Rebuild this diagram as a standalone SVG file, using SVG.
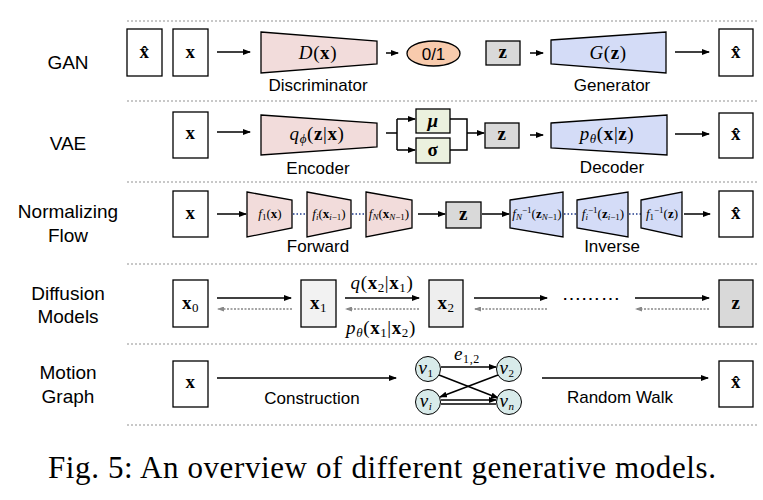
<svg xmlns="http://www.w3.org/2000/svg" width="763" height="500" viewBox="0 0 763 500">
<defs>
<marker id="ah" markerWidth="8" markerHeight="6" refX="7" refY="3" orient="auto" markerUnits="userSpaceOnUse"><path d="M0,0 L8,3 L0,6 Z" fill="#000"/></marker>
<marker id="ahg" markerWidth="7" markerHeight="5" refX="6" refY="2.5" orient="auto" markerUnits="userSpaceOnUse"><path d="M0,0 L7,2.5 L0,5 Z" fill="#888"/></marker>
<style>
.sep{stroke:#c8c8c8;stroke-width:2;stroke-dasharray:2 2;fill:none}
.box{fill:#fff;stroke:#000;stroke-width:1.3}
.zb{fill:#d9d9d9;stroke:#000;stroke-width:1.3}
.pink{fill:#f2dcdb;stroke:#000;stroke-width:1.3}
.blue{fill:#d4dcf7;stroke:#000;stroke-width:1.3}
.grn{fill:#ebf1de;stroke:#000;stroke-width:1.3}
.nd{fill:#d8ebea;stroke:#000;stroke-width:1}
.ar{stroke:#000;stroke-width:1.5;fill:none;marker-end:url(#ah)}
.ln{stroke:#000;stroke-width:1.5;fill:none}
.bk{stroke:#888;stroke-width:1.3;stroke-dasharray:2 1.5;fill:none;marker-end:url(#ahg)}
.dt{stroke:#1f3a8a;stroke-width:1.5;stroke-dasharray:1.5 2;fill:none}
.lab{font-family:"Liberation Sans",Arial,sans-serif;font-size:19px;fill:#000;text-anchor:middle}
.cap{font-family:"Liberation Sans",Arial,sans-serif;font-size:17px;fill:#000;text-anchor:middle}
.m{font-family:"Liberation Serif","Times New Roman",serif;font-size:19px;fill:#000;text-anchor:middle;letter-spacing:0.6px}
.ms{font-family:"Liberation Serif","Times New Roman",serif;font-size:13px;fill:#000;text-anchor:middle}
.b{font-weight:bold}
.i{font-style:italic}
</style>
</defs>

<g id="separators">
<line class="sep" x1="127" y1="21" x2="757" y2="21"/>
<line class="sep" x1="127" y1="101" x2="757" y2="101"/>
<line class="sep" x1="127" y1="182" x2="757" y2="182"/>
<line class="sep" x1="127" y1="264" x2="757" y2="264"/>
<line class="sep" x1="127" y1="344" x2="757" y2="344"/>
<line class="sep" x1="127" y1="425" x2="757" y2="425"/>
</g>

<g id="row-labels">
<text class="lab" x="68" y="69">GAN</text>
<text class="lab" x="68" y="150">VAE</text>
<text class="lab" x="68" y="218">Normalizing</text>
<text class="lab" x="68" y="242">Flow</text>
<text class="lab" x="68" y="300">Diffusion</text>
<text class="lab" x="68" y="323">Models</text>
<text class="lab" x="68" y="379">Motion</text>
<text class="lab" x="68" y="403">Graph</text>
</g>

<g id="connectors">
<line class="ar" x1="217" y1="52" x2="250" y2="52"/>
<line class="ar" x1="386" y1="53" x2="398" y2="53"/>
<line class="ar" x1="530" y1="53" x2="543" y2="53"/>
<line class="ar" x1="675" y1="52" x2="709" y2="52"/>
<line class="ar" x1="217" y1="132" x2="250" y2="132"/>
<polyline class="ln" points="386,133 397,133"/>
<polyline class="ln" points="397,119 397,150"/>
<line class="ar" x1="397" y1="119" x2="415" y2="119"/>
<line class="ar" x1="397" y1="150" x2="415" y2="150"/>
<polyline class="ln" points="450,119 467,119 467,150 450,150"/>
<line class="ar" x1="467" y1="133" x2="484" y2="133"/>
<line class="ar" x1="530" y1="135" x2="543" y2="135"/>
<line class="ar" x1="675" y1="134" x2="709" y2="134"/>
<line class="ar" x1="217" y1="214" x2="246" y2="214"/>
<line class="dt" x1="293" y1="214" x2="306" y2="214"/>
<line class="dt" x1="352" y1="214" x2="365" y2="214"/>
<line class="ar" x1="418" y1="214" x2="445" y2="214"/>
<line class="ar" x1="482" y1="214" x2="509" y2="214"/>
<line class="dt" x1="564" y1="214" x2="577" y2="214"/>
<line class="dt" x1="629" y1="214" x2="641" y2="214"/>
<line class="ar" x1="684" y1="214" x2="710" y2="214"/>
<line class="ar" x1="217" y1="298" x2="291" y2="298"/>
<line class="bk" x1="292" y1="309" x2="218" y2="309"/>
<line class="ar" x1="345" y1="298" x2="419" y2="298"/>
<line class="bk" x1="419" y1="309" x2="346" y2="309"/>
<line class="ar" x1="474" y1="298" x2="547" y2="298"/>
<line class="bk" x1="547" y1="309" x2="475" y2="309"/>
<line class="ar" x1="635" y1="298" x2="709" y2="298"/>
<line class="bk" x1="709" y1="309" x2="636" y2="309"/>
<line class="ar" x1="217" y1="378" x2="396" y2="378"/>
<line class="ar" x1="441" y1="367" x2="496" y2="367"/>
<line class="ar" x1="439" y1="375" x2="498" y2="398"/>
<line class="ar" x1="498" y1="375" x2="440" y2="397"/>
<line class="ar" x1="441" y1="400" x2="496" y2="400"/>
<line class="ln" x1="441" y1="404" x2="496" y2="404"/>
<line class="ar" x1="542" y1="378" x2="708" y2="378"/>
</g>

<g id="gan-xhat-in"><rect class="box" x="127" y="29" width="35" height="47"/><text class="m b" x="144.5" y="58">x̂</text></g>
<g id="gan-x"><rect class="box" x="173" y="29" width="35" height="47"/><text class="m b" x="190.5" y="58">x</text></g>
<g id="discriminator"><polygon class="pink" points="261,32 377,41 377,64 261,73"/>
<text class="m" x="318" y="59"><tspan class="i">D</tspan>(<tspan class="b">x</tspan>)</text>
<text class="cap" x="318" y="91">Discriminator</text></g>
<g id="gan-out"><ellipse cx="433.5" cy="53.5" rx="26.5" ry="12.5" fill="#f8cbad" stroke="#000" stroke-width="1.3"/>
<text class="cap" x="433.5" y="59.5">0/1</text></g>
<g id="gan-z"><rect class="zb" x="486" y="41" width="34" height="24"/><text class="m b" x="503" y="58">z</text></g>
<g id="generator"><polygon class="blue" points="551,40 666,32 666,73 551,64"/>
<text class="m" x="608" y="59"><tspan class="i">G</tspan>(<tspan class="b">z</tspan>)</text>
<text class="cap" x="612" y="91">Generator</text></g>
<g id="gan-xhat-out"><rect class="box" x="719" y="29" width="34" height="47"/><text class="m b" x="736" y="58">x̂</text></g>

<g id="vae-x"><rect class="box" x="173" y="112" width="35" height="46"/><text class="m b" x="190.5" y="139">x</text></g>
<g id="encoder"><polygon class="pink" points="261,115 377,123 377,147 261,155"/>
<text class="m" x="317" y="140"><tspan class="i">q</tspan><tspan class="i" font-size="13" dy="3">ϕ</tspan><tspan dy="-3">(</tspan><tspan class="b">z</tspan>|<tspan class="b">x</tspan>)</text>
<text class="cap" x="318" y="174">Encoder</text></g>
<g id="mu"><rect class="grn" x="416" y="109" width="34" height="24"/><text class="m b i" x="433" y="127">μ</text></g>
<g id="sigma"><rect class="grn" x="416" y="138" width="34" height="25"/><text class="m b" x="433" y="156">σ</text></g>
<g id="vae-z"><rect class="zb" x="485" y="123" width="34" height="25"/><text class="m b" x="502" y="140">z</text></g>
<g id="decoder"><polygon class="blue" points="551,123 667,115 667,155 551,148"/>
<text class="m" x="607" y="140"><tspan class="i">p</tspan><tspan class="i" font-size="13" dy="3">θ</tspan><tspan dy="-3">(</tspan><tspan class="b">x</tspan>|<tspan class="b">z</tspan>)</text>
<text class="cap" x="612" y="173">Decoder</text></g>
<g id="vae-xhat"><rect class="box" x="719" y="113" width="34" height="45"/><text class="m b" x="736" y="140">x̂</text></g>

<g id="nf-x"><rect class="box" x="173" y="191" width="35" height="46"/><text class="m b" x="190.5" y="219">x</text></g>
<g id="f1"><polygon class="pink" points="247,192 292,200 292,228 247,237"/>
<text class="ms" x="270" y="218"><tspan class="i">f</tspan><tspan font-size="9" dy="2">1</tspan><tspan dy="-2">(</tspan><tspan class="b">x</tspan>)</text></g>
<g id="fi"><polygon class="pink" points="307,192 351,200 351,228 307,237"/>
<text class="ms" x="329" y="218"><tspan class="i">f</tspan><tspan class="i" font-size="9" dy="2">i</tspan><tspan dy="-2">(</tspan><tspan class="b">x</tspan><tspan class="i" font-size="9" dy="2">i</tspan><tspan font-size="9">−1</tspan><tspan dy="-2">)</tspan></text></g>
<g id="fN"><polygon class="pink" points="366,192 412,200 412,228 366,237"/>
<text class="ms" x="389" y="218"><tspan class="i">f</tspan><tspan class="i" font-size="9" dy="2">N</tspan><tspan dy="-2">(</tspan><tspan class="b">x</tspan><tspan class="i" font-size="9" dy="2">N</tspan><tspan font-size="9">−1</tspan><tspan dy="-2">)</tspan></text></g>
<text class="cap" x="318" y="252">Forward</text>
<g id="nf-z"><rect class="zb" x="446" y="202" width="35" height="26"/><text class="m b" x="463.5" y="220">z</text></g>
<g id="fNinv"><polygon class="blue" points="510,200 563,192 563,237 510,228"/>
<text class="ms" x="537" y="218"><tspan class="i">f</tspan><tspan class="i" font-size="9" dy="2">N</tspan><tspan font-size="9" dy="-7">−1</tspan><tspan dy="5">(</tspan><tspan class="b">z</tspan><tspan class="i" font-size="9" dy="2">N</tspan><tspan font-size="9">−1</tspan><tspan dy="-2">)</tspan></text></g>
<g id="fiinv"><polygon class="blue" points="577,200 628,192 628,237 577,228"/>
<text class="ms" x="603" y="218"><tspan class="i">f</tspan><tspan class="i" font-size="9" dy="2">i</tspan><tspan font-size="9" dy="-7">−1</tspan><tspan dy="5">(</tspan><tspan class="b">z</tspan><tspan class="i" font-size="9" dy="2">i</tspan><tspan font-size="9">−1</tspan><tspan dy="-2">)</tspan></text></g>
<g id="f1inv"><polygon class="blue" points="641,200 682,192 682,237 641,228"/>
<text class="ms" x="662" y="218"><tspan class="i">f</tspan><tspan font-size="9" dy="2">1</tspan><tspan font-size="9" dy="-7">−1</tspan><tspan dy="5">(</tspan><tspan class="b">z</tspan>)</text></g>
<text class="cap" x="612" y="252">Inverse</text>
<g id="nf-xhat"><rect class="box" x="719" y="191" width="34" height="46"/><text class="m b" x="736" y="219">x̂</text></g>

<g id="x0"><rect class="box" x="173" y="280" width="35" height="47"/><text class="m" x="190.5" y="309"><tspan class="b">x</tspan><tspan font-size="13" dy="3">0</tspan></text></g>
<g id="x1"><rect x="301" y="280" width="35" height="47" fill="#f2f2f2" stroke="#000" stroke-width="1.3"/><text class="m" x="318.5" y="309"><tspan class="b">x</tspan><tspan font-size="13" dy="3">1</tspan></text></g>
<text class="m" x="382" y="289"><tspan class="i">q</tspan>(<tspan class="b">x</tspan><tspan font-size="13" dy="3">2</tspan><tspan dy="-3">|</tspan><tspan class="b">x</tspan><tspan font-size="13" dy="3">1</tspan><tspan dy="-3">)</tspan></text>
<text class="m" x="381" y="334"><tspan class="i">p</tspan><tspan class="i" font-size="13" dy="3">θ</tspan><tspan dy="-3">(</tspan><tspan class="b">x</tspan><tspan font-size="13" dy="3">1</tspan><tspan dy="-3">|</tspan><tspan class="b">x</tspan><tspan font-size="13" dy="3">2</tspan><tspan dy="-3">)</tspan></text>
<g id="x2"><rect x="429" y="280" width="34" height="47" fill="#eeeeee" stroke="#000" stroke-width="1.3"/><text class="m" x="446" y="309"><tspan class="b">x</tspan><tspan font-size="13" dy="3">2</tspan></text></g>
<text class="m" x="591" y="305" font-size="16">⋯⋯⋯</text>
<g id="dz"><rect class="zb" x="719" y="280" width="34" height="47"/><text class="m b" x="736" y="309">z</text></g>

<g id="mg-x"><rect class="box" x="173" y="361" width="35" height="46"/><text class="m b" x="190.5" y="388">x</text></g>
<text class="cap" x="312" y="404">Construction</text>
<g id="v1"><circle class="nd" cx="428" cy="369" r="12.5"/><text class="m i" x="426" y="374">v<tspan font-size="11" font-style="normal" dy="3">1</tspan></text></g>
<g id="v2"><circle class="nd" cx="509" cy="369" r="12.5"/><text class="m i" x="507" y="374">v<tspan font-size="11" font-style="normal" dy="3">2</tspan></text></g>
<g id="vi"><circle class="nd" cx="428" cy="402" r="12.5"/><text class="m i" x="426" y="407">v<tspan font-size="11" dy="3">i</tspan></text></g>
<g id="vn"><circle class="nd" cx="509" cy="402" r="12.5"/><text class="m i" x="507" y="407">v<tspan font-size="11" dy="3">n</tspan></text></g>
<text class="m" x="467" y="360"><tspan class="i">e</tspan><tspan font-size="12" dy="3">1,2</tspan></text>
<text class="cap" x="620" y="403">Random Walk</text>
<g id="mg-xhat"><rect class="box" x="719" y="361" width="34" height="46"/><text class="m b" x="736" y="388">x̂</text></g>

<text x="382" y="478" font-family="Liberation Serif,'Times New Roman',serif" font-size="31" text-anchor="middle" fill="#000" textLength="668" lengthAdjust="spacing">Fig. 5: An overview of different generative models.</text>
</svg>
